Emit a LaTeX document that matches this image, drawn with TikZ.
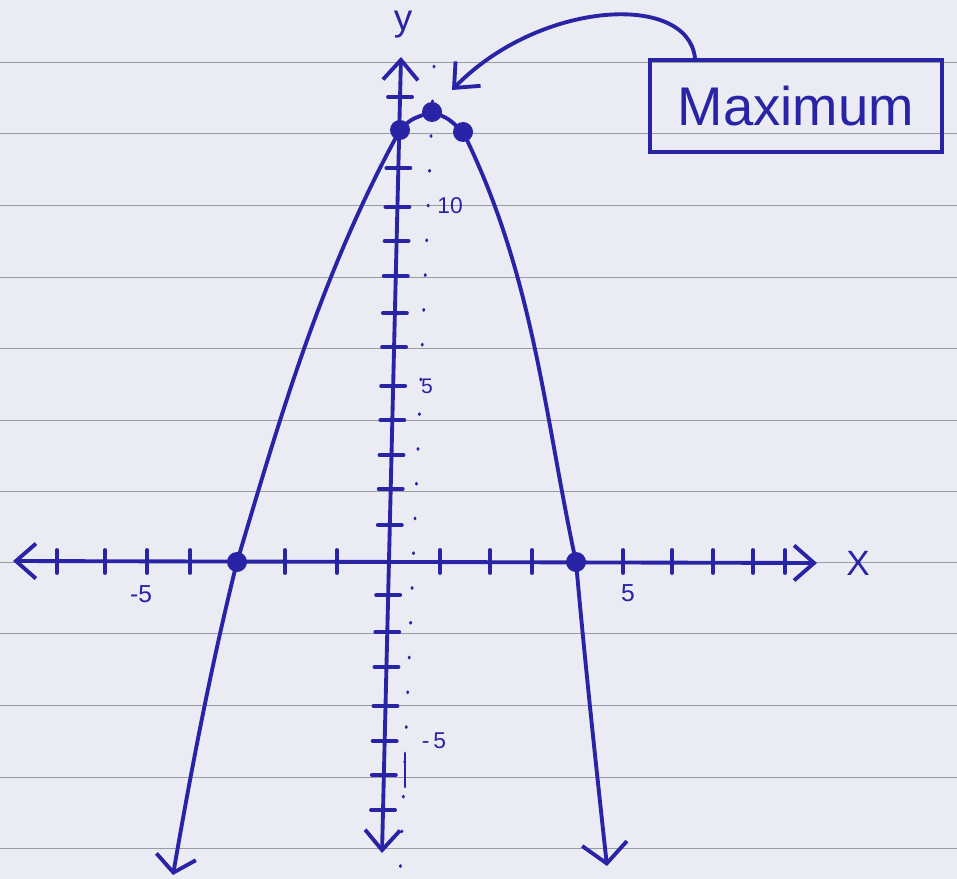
\documentclass[tikz,border=0pt]{standalone}
\usepackage{fontspec}
\setmainfont{Liberation Sans}
\usetikzlibrary{arrows.meta}
\definecolor{paper}{RGB}{234,235,243}
\definecolor{ink}{RGB}{40,36,165}
\definecolor{rulecol}{RGB}{152,155,164}
\begin{document}
\begin{tikzpicture}[x=0.2mm,y=-0.2mm,
  pen/.style={draw=ink, line width=2.2pt, line cap=round, line join=round},
  ruleline/.style={draw=rulecol, line width=0.5pt},
  dotmark/.style={circle, fill=ink, inner sep=0pt, minimum size=4mm},
  lbl/.style={text=ink, inner sep=0pt},
  barb/.style={arrows={-{Straight Barb[length=4mm,width=7mm]}}},
  barbs/.style={arrows={{Straight Barb[length=4mm,width=7mm]}-{Straight Barb[length=4mm,width=7mm]}}},
  lefttip/.style={arrows={-{Straight Barb[length=3.2mm,width=8mm]}}},
  righttip/.style={arrows={-{Straight Barb[length=4mm,width=9mm]}}},
  symline/.style={draw=ink, line width=1.6pt, line cap=round, dash pattern=on 0.6pt off 19.2pt}
]
% paper
\fill[paper] (0,0) rectangle (957,879);
\useasboundingbox (0,0) rectangle (957,879);
\foreach \ry in {62,133,205,277,348,420,491,562,633,705,777,848}
  \draw[ruleline] (0,\ry) -- (957,\ry);

% dotted symmetry marks
\draw[symline] (434,66) -- (400,876);
\draw[ink, line width=1.6pt, line cap=round] (405,753) -- (405,787);

% axes
\coordinate (xl) at (13,561);
\coordinate (xr) at (817,563);
\coordinate (yt) at (401,57);
\coordinate (yb) at (382,853);
\draw[pen, barbs] (xl) -- (xr);
\draw[pen, barbs] (yb) -- (yt);

% x ticks
\foreach \t in {57,105,147,190,285,337,440,490,532,623,672,713,753,785}
  \draw[pen] (\t,550) -- (\t,573);
% y ticks
\foreach \t in {97,168,207,241,276,313,347,386,420,455,489,525,595,632,667,706,741,775,810}{
  \pgfmathsetmacro\cx{401-19*(\t-57)/796}
  \draw[pen] ({\cx-12},\t) -- ({\cx+12},\t);
}

% points
\node[dotmark] (v0) at (400,130) {};
\node[dotmark] (v1) at (432,112) {};
\node[dotmark] (v2) at (463,132) {};
\node[dotmark] (r1) at (237,562) {};
\node[dotmark] (r2) at (576,562) {};
\coordinate (lt) at (173,875);
\coordinate (rt) at (607,866);

% parabola
\draw[pen, lefttip] (r1.center) .. controls (211,666) and (191,771) .. (lt);
\draw[pen] (r1.center) .. controls (280,418) and (321,274) .. (v0.center)
  .. controls (411,119) .. (v1.center)
  .. controls (448,118) .. (v2.center)
  .. controls (534,275) and (545,419) .. (r2.center);
\draw[pen, righttip] (r2.center) .. controls (585,662) and (596,766) .. (rt);

% labels
\node[lbl, font=\fontsize{21}{21}\selectfont] (ylab) at (403,25) {y};
\node[lbl, font=\fontsize{20}{20}\selectfont] (xlab) at (858,563) {X};
\node[lbl, font=\fontsize{14}{14}\selectfont] (xm5) at (141,594) {-5};
\node[lbl, font=\fontsize{14}{14}\selectfont] (xp5) at (628,593) {5};
\node[lbl, font=\fontsize{13}{13}\selectfont] (y10) at (450,206) {10};
\node[lbl, font=\fontsize{12}{12}\selectfont] (y5) at (427,386) {5};
\node[lbl, font=\fontsize{13}{13}\selectfont] (ym5) at (434,741) {-\,5};

% maximum box and arrow
\node[draw=ink, line width=2pt, minimum width=58.4mm, minimum height=18.4mm, inner sep=0pt,
      text=ink, font=\fontsize{31}{31}\selectfont] (box) at (796,106) {Maximum};
\coordinate (mstart) at ([xshift=-20.2mm]box.north);
\coordinate (mtip) at ([xshift=4mm,yshift=4.4mm]v1);
\draw[pen, barb] (mstart) .. controls (688,-8) and (540,0) .. (mtip);
\end{tikzpicture}
\end{document}
